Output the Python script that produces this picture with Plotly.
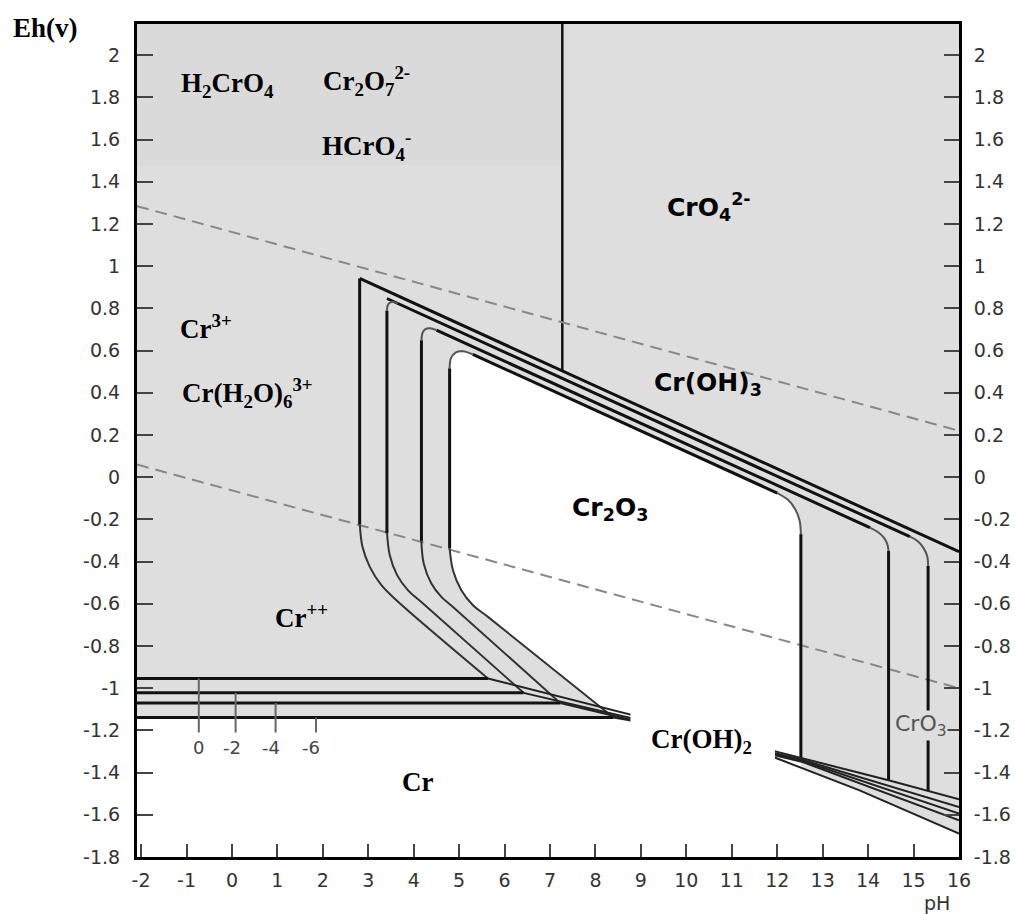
import plotly.graph_objects as go

# ---------------- axes / ticks ----------------
PH_MIN, PH_MAX = -2.09, 16.0
EH_MIN, EH_MAX = -1.8, 2.148

ph_tick_vals = list(range(-2, 17))
ph_tick_text = ["-2", "-1", "0", "1", "2", "3", "4", "5", "6", "7", "8",
                "9", "10", "11", "12", "13", "14", "15", "16"]
eh_tick_vals = [-1.8, -1.6, -1.4, -1.2, -1.0, -0.8, -0.6, -0.4, -0.2, 0.0,
                0.2, 0.4, 0.6, 0.8, 1.0, 1.2, 1.4, 1.6, 1.8, 2.0]
eh_tick_text = ["-1.8", "-1.6", "-1.4", "-1.2", "-1", "-0.8", "-0.6", "-0.4", "-0.2", "0",
                "0.2", "0.4", "0.6", "0.8", "1", "1.2", "1.4", "1.6", "1.8", "2"]

# ---------------- water stability (dashed) ----------------
water_ph = [PH_MIN, 16.0]
o2_eh = [1.285, 0.22]
h2_eh = [0.06, -1.0]

# ---------------- Cr(VI) boundary ----------------
cro4_ph = [7.27, 7.27]
cro4_eh = [EH_MAX, 0.504]

# ---------------- Cr2O3 / Cr(OH)3 contours (log a = 0, -2, -4, -6) ----------------
left_v_ph = [2.81, 3.41, 4.17, 4.79]
left_v_top = [0.942, 0.79, 0.649, 0.516]
left_v_bot = [-0.223, -0.267, -0.302, -0.338]

slope_ph = [[2.81, 16.0], [3.41, 14.92], [4.50, 14.04], [5.30, 12.0]]
slope_eh = [[0.942, -0.353], [0.847, -0.282], [0.697, -0.239], [0.582, -0.075]]

corner_l_ph = [[3.41, 3.425, 3.47, 3.545, 3.65],
               [4.17, 4.19, 4.25, 4.36, 4.50],
               [4.79, 4.82, 4.92, 5.08, 5.30]]
corner_l_eh = [[0.79, 0.813, 0.827, 0.830, 0.823],
               [0.649, 0.682, 0.701, 0.706, 0.697],
               [0.516, 0.564, 0.591, 0.597, 0.582]]

corner_r_ph = [[14.92, 15.10, 15.22, 15.30, 15.32],
               [14.04, 14.22, 14.35, 14.42, 14.45],
               [12.0, 12.23, 12.39, 12.49, 12.52]]
corner_r_eh = [[-0.282, -0.305, -0.336, -0.374, -0.42],
               [-0.239, -0.261, -0.287, -0.316, -0.35],
               [-0.075, -0.106, -0.149, -0.204, -0.27]]

right_v_ph = [15.32, 14.45, 12.52]
right_v_top = [-0.42, -0.35, -0.27]
right_v_bot = [-1.487, -1.436, -1.333]

# ---------------- Cr++ curves ----------------
curve_ph = [[2.813, 2.872, 3.033, 3.289, 3.619, 5.634],
            [3.414, 3.473, 3.634, 3.875, 4.205, 6.418],
            [4.168, 4.220, 4.388, 4.608, 4.901, 7.224],
            [4.791, 4.864, 5.048, 5.304, 5.634, 8.396]]
curve_eh = [[-0.223, -0.330, -0.425, -0.512, -0.583, -0.954],
            [-0.267, -0.370, -0.464, -0.536, -0.599, -1.022],
            [-0.302, -0.409, -0.504, -0.567, -0.622, -1.070],
            [-0.338, -0.441, -0.536, -0.607, -0.662, -1.139]]

# Cr++ / Cr horizontal lines
hline_eh = [-0.954, -1.022, -1.070, -1.139]
hline_end = [5.634, 6.418, 7.224, 8.396]

# Cr / Cr(OH)2 fan lines
fan_ph = [[5.634, 8.75, 12.56, 14.45, 16.0],
          [6.418, 8.75, 12.56, 16.0],
          [7.224, 8.75, 12.56, 16.0],
          [8.396, 8.75, 12.56, 16.0]]
fan_eh = [[-0.954, -1.125, -1.333, -1.436, -1.527],
          [-1.022, -1.14, -1.34, -1.563],
          [-1.070, -1.148, -1.345, -1.594],
          [-1.139, -1.152, -1.35, -1.626]]
fan_low_ph = [11.9, 12.52, 13.8, 16.0]
fan_low_eh = [-1.325, -1.377, -1.483, -1.689]

# small concentration scale
scale_ph = [-0.73, 0.08, 0.96, 1.85]
scale_bot = -1.21
scale_label_ph = [-0.73, -0.01, 0.85, 1.75]
scale_label_eh = -1.28
scale_labels = ["0", "-2", "-4", "-6"]

GRAY = "#dedede"
TIMES = "Liberation Serif"
SANS = "DejaVu Sans"

fig = go.Figure()

# white (Cr, Cr2O3, Cr(OH)2) region built from the boundary arrays
wx = [PH_MIN, PH_MIN] + curve_ph[3][::-1] + corner_l_ph[2] + corner_r_ph[2] \
     + [right_v_ph[2]] + fan_low_ph[1:] + [PH_MAX]
wy = [EH_MIN, hline_eh[3]] + curve_eh[3][::-1] + corner_l_eh[2] + corner_r_eh[2] \
     + [right_v_bot[2]] + fan_low_eh[1:] + [EH_MIN]
fig.add_trace(go.Scatter(x=wx, y=wy, fill="toself", fillcolor="white",
                         mode="none", hoverinfo="skip"))


def line(x, y, color="#111", width=3, dash=None, shape="linear", yaxis="y"):
    fig.add_trace(go.Scatter(x=x, y=y, mode="lines", yaxis=yaxis,
                             line=dict(color=color, width=width, dash=dash, shape=shape),
                             hoverinfo="skip"))


# dashed water lines
line(water_ph, o2_eh, color="#888", width=2, dash="12px,7px", yaxis="y2")
line(water_ph, h2_eh, color="#888", width=2, dash="12px,7px")

# CrO4 boundary
line(cro4_ph, cro4_eh, width=2.5)

# contours
for i in range(4):
    line([left_v_ph[i], left_v_ph[i]], [left_v_bot[i], left_v_top[i]], width=3)
    line(slope_ph[i], slope_eh[i], width=3)
for i in range(3):
    line(corner_l_ph[i], corner_l_eh[i], color="#555", width=2, shape="spline")
    line(corner_r_ph[i], corner_r_eh[i], color="#555", width=2, shape="spline")
    line([right_v_ph[i], right_v_ph[i]], [right_v_top[i], right_v_bot[i]], width=3)

# Cr++ curves
for i in range(4):
    line(curve_ph[i], curve_eh[i], color="#333", width=2, shape="spline")

# horizontal lines
for i in range(4):
    line([PH_MIN, hline_end[i]], [hline_eh[i], hline_eh[i]], width=3)

# fan lines
for i in range(4):
    line(fan_ph[i], fan_eh[i], color="#222", width=2)
line(fan_low_ph, fan_low_eh, color="#222", width=2)

# concentration scale ticks
for i in range(4):
    line([scale_ph[i], scale_ph[i]], [hline_eh[i], scale_bot], color="#666", width=2)

shapes = [
    # slightly darker scan area top-left
    dict(type="rect", xref="x", yref="y", x0=PH_MIN, x1=cro4_ph[0], y0=1.48, y1=EH_MAX,
         fillcolor="#dadada", line=dict(width=0), layer="below"),
    # white label box hiding the fan lines behind Cr(OH)2
    dict(type="rect", xref="x", yref="y", x0=8.77, x1=11.95, y0=-1.45, y1=-1.09,
         fillcolor="white", line=dict(width=0), layer="above"),
]

ann = []


def label(text, x, y, family=TIMES, size=27, color="black", bold=True, bg=None, xref="x", yref="y"):
    t = f"<b>{text}</b>" if bold else text
    d = dict(text=t, x=x, y=y, xref=xref, yref=yref, showarrow=False,
             xanchor="center", yanchor="middle",
             font=dict(family=family, size=size, color=color))
    if bg:
        d.update(bgcolor=bg, borderpad=0)
    ann.append(d)


label("H<sub>2</sub>CrO<sub>4</sub>", -0.09, 1.86)
label("Cr<sub>2</sub>O<sub>7</sub><sup>2-</sup>", 2.97, 1.88)
label("HCrO<sub>4</sub><sup>-</sup>", 2.95, 1.57)
label("CrO<sub>4</sub><sup>2-</sup>", 10.5, 1.28, family=SANS, size=25)
label("Cr<sup>3+</sup>", -0.57, 0.71)
label("Cr(H<sub>2</sub>O)<sub>6</sub><sup>3+</sup>", 0.35, 0.40)
label("Cr(OH)<sub>3</sub>", 10.48, 0.44, family=SANS, size=25)
label("Cr<sub>2</sub>O<sub>3</sub>", 8.31, -0.15, family=SANS, size=25)
label("Cr<sup>++</sup>", 1.54, -0.66)
label("Cr", 4.09, -1.445)
label("Cr(OH)<sub>2</sub>", 10.33, -1.25)
label("CrO<sub>3</sub>", 15.165, -1.175, family=SANS, size=22, color="#555", bold=False, bg=GRAY)
label("Eh(v)", -0.111, 0.995, xref="paper", yref="paper")
label("pH", 0.973, -0.055, family=SANS, size=19, color="#333", bold=False, xref="paper", yref="paper")
for i in range(4):
    label(scale_labels[i], scale_label_ph[i], scale_label_eh, family=SANS, size=18,
          color="#444", bold=False)

tickfont = dict(family=SANS, size=19, color="#333")
fig.update_layout(
    width=1015, height=914,
    margin=dict(l=137, r=56, t=24, b=57, autoexpand=False),
    paper_bgcolor="white", plot_bgcolor=GRAY,
    showlegend=False, hovermode=False,
    shapes=shapes, annotations=ann,
    xaxis=dict(range=[PH_MIN, PH_MAX], tickvals=ph_tick_vals, ticktext=ph_tick_text,
               ticks="inside", ticklen=13, tickwidth=2, tickcolor="#444",
               showline=True, linewidth=3, linecolor="black", mirror=True, automargin=False,
               showgrid=False, zeroline=False, tickfont=tickfont, ticklabelstandoff=4),
    yaxis=dict(range=[EH_MIN, EH_MAX], tickvals=eh_tick_vals, ticktext=eh_tick_text,
               ticks="inside", ticklen=16, tickwidth=2, tickcolor="#444", automargin=False,
               showline=True, linewidth=3, linecolor="black",
               showgrid=False, zeroline=False, tickfont=tickfont, ticklabelstandoff=10),
    yaxis2=dict(range=[EH_MIN, EH_MAX], tickvals=eh_tick_vals, ticktext=eh_tick_text,
                overlaying="y", side="right", automargin=False,
                ticks="inside", ticklen=15, tickwidth=2, tickcolor="#444",
                showline=True, linewidth=3, linecolor="black",
                showgrid=False, zeroline=False, tickfont=tickfont, ticklabelstandoff=8),
)

# remove the default page margin so the 1015x914 figure fills the window exactly
fig.write_html("out.html", config={"displayModeBar": False},
               post_script="document.body.style.margin='0';document.body.style.overflow='hidden';")
